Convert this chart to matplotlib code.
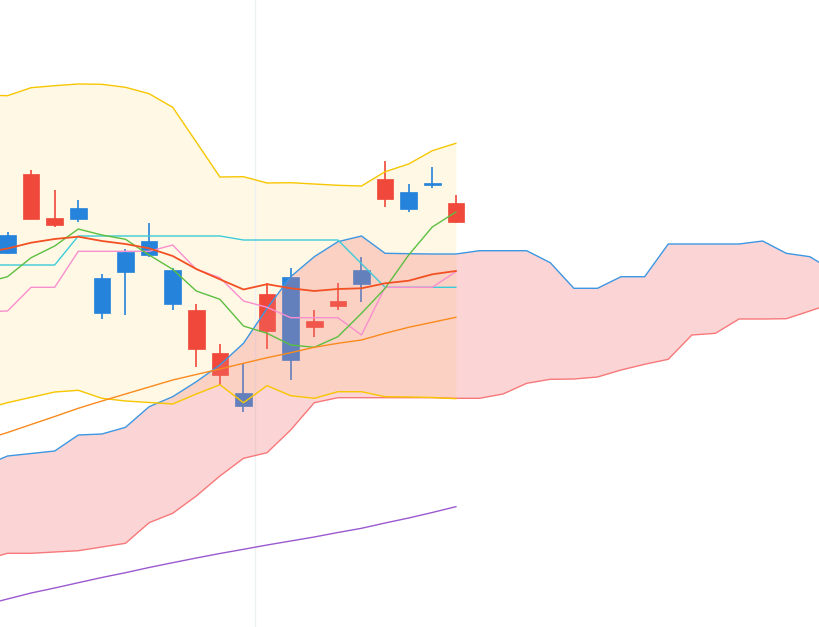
import numpy as np
import matplotlib.pyplot as plt

# candles, index 0..19
opens  = [76.47, 78.10, 77.47, 79.20, 72.20, 74.83, 75.87, 73.00, 65.13, 62.50,
          60.70, 66.87, 72.33, 67.33, 69.37, 72.97, 80.10, 80.83, 81.73, 77.83]
highs  = [76.80, 83.00, 81.00, 80.00, 72.60, 75.07, 77.73, 73.23, 69.60, 65.60,
          63.67, 71.67, 73.23, 69.00, 71.73, 74.33, 83.87, 81.60, 83.33, 80.50]
lows   = [74.60, 78.10, 77.33, 77.83, 68.10, 68.47, 74.33, 68.97, 63.27, 61.50,
          58.83, 65.13, 62.00, 66.33, 69.00, 69.83, 79.33, 78.83, 81.23, 77.73]
closes = [74.73, 82.57, 78.20, 78.10, 68.73, 72.83, 74.50, 69.60, 69.00, 64.70,
          59.40, 70.60, 64.00, 67.93, 69.87, 71.63, 82.10, 79.10, 81.50, 79.73]

# indicator lines, index -1..19
bb_upper = [90.50, 90.43, 91.23, 91.43, 91.60, 91.57, 91.27, 90.63, 89.27, 85.80, 82.30,
            82.33, 81.70, 81.73, 81.60, 81.47, 81.40, 82.83, 83.60, 84.93, 85.67]
bb_lower = [59.10, 59.73, 60.27, 60.80, 60.97, 60.17, 59.90, 59.75, 59.60, 60.60, 61.53,
            59.73, 61.43, 60.43, 60.17, 60.83, 60.83, 60.33, 60.30, 60.25, 60.13]
tenkan = [73.50, 73.50, 73.50, 73.50, 76.40, 76.40, 76.40, 76.40, 76.40, 76.40, 76.40,
          76.00, 76.00, 76.00, 76.00, 76.00, 73.63, 71.27, 71.27, 71.27, 71.27]
kijun = [68.83, 68.90, 71.27, 71.27, 74.87, 74.87, 74.87, 74.87, 75.50, 73.07, 72.23,
         69.90, 69.27, 68.23, 68.23, 68.23, 66.50, 71.27, 71.27, 71.27, 72.83]
fast_ma = [71.70, 72.33, 74.23, 75.40, 77.10, 76.50, 76.07, 74.50, 73.07, 70.90, 70.07,
           67.40, 66.67, 65.50, 65.27, 66.33, 68.67, 71.17, 74.50, 77.30, 78.80]
mid_ma = [74.70, 75.15, 75.73, 76.10, 76.33, 75.90, 75.60, 75.17, 74.40, 73.10, 72.07,
          71.05, 71.58, 71.17, 70.90, 71.10, 71.17, 71.67, 71.93, 72.57, 72.90]
slow_ma = [56.00, 56.75, 57.55, 58.35, 59.17, 59.90, 60.60, 61.30, 62.00, 62.55, 63.10,
           63.67, 64.23, 64.73, 65.27, 65.67, 66.00, 66.67, 67.27, 67.77, 68.27]
long_ma = [39.50, 40.10, 40.70, 41.20, 41.73, 42.25, 42.73, 43.25, 43.73, 44.20, 44.65,
           45.07, 45.50, 45.90, 46.30, 46.75, 47.17, 47.70, 48.20, 48.75, 49.33]

# cloud, index -1..35
span_a = [53.40, 54.40, 54.65, 54.90, 56.50, 56.60, 57.27, 59.33, 60.33, 61.83, 63.50,
          65.67, 69.17, 72.33, 74.33, 75.83, 76.40, 74.67, 74.63, 74.60, 74.60,
          74.93, 74.93, 74.93, 73.73, 71.17, 71.17, 72.33, 72.33, 75.60, 75.60,
          75.60, 75.60, 75.90, 74.67, 74.33, 72.90]
span_b = [44.00, 44.67, 44.67, 44.80, 44.93, 45.30, 45.67, 47.73, 48.67, 50.40, 52.40,
          54.17, 54.73, 57.00, 59.73, 60.23, 60.23, 60.23, 60.23, 60.23, 60.17,
          60.17, 60.60, 61.67, 62.07, 62.10, 62.30, 63.00, 63.57, 64.07, 66.50,
          66.67, 68.10, 68.10, 68.13, 68.90, 69.70]

UP = '#f0483a'
DOWN = '#2683db'

fig = plt.figure(figsize=(8.2, 6.27), dpi=100)
ax = fig.add_axes([0, 0, 1, 1])
ax.axis('off')

xl = np.arange(-1, 20)
xc = np.arange(-1, 36)
xk = np.arange(20)

ax.fill_between(xl, bb_lower, bb_upper, color='#fff8e5', lw=0, zorder=1)
ax.axvline(10.5, color='#edf1f4', lw=1, zorder=1.5)

for i in xk:
    col = UP if closes[i] > opens[i] else DOWN
    ax.vlines(i, lows[i], highs[i], color=col, lw=1.2, zorder=2)
    lo, hi = min(opens[i], closes[i]), max(opens[i], closes[i])
    ax.bar(i, hi - lo, bottom=lo, width=0.7, color=col, edgecolor=col, lw=0.5, zorder=2)

ax.fill_between(xc, span_b, span_a, color='#f37777', alpha=0.3, lw=0, zorder=3)

ax.plot(xc, span_a, color='#3d97e3', lw=1.0, zorder=4)
ax.plot(xc, span_b, color='#f7787a', lw=1.0, zorder=4)
ax.plot(xl, bb_upper, color='#f7c600', lw=1.0, zorder=4)
ax.plot(xl, bb_lower, color='#f7c600', lw=1.0, zorder=4)
ax.plot(xl, tenkan, color='#3ccbd9', lw=1.0, zorder=4)
ax.plot(xl, kijun, color='#f88fce', lw=1.0, zorder=4)
ax.plot(xl, fast_ma, color='#5cbf40', lw=1.0, zorder=4)
ax.plot(xl, mid_ma, color='#f25124', lw=1.3, zorder=4)
ax.plot(xl, slow_ma, color='#fa8a1e', lw=1.0, zorder=4)
ax.plot(xl, long_ma, color='#9b59d0', lw=1.0, zorder=4)

ax.set_xlim(-0.318, 34.43)
ax.set_ylim(37.3, 100)

plt.savefig('out.png', dpi=100)
